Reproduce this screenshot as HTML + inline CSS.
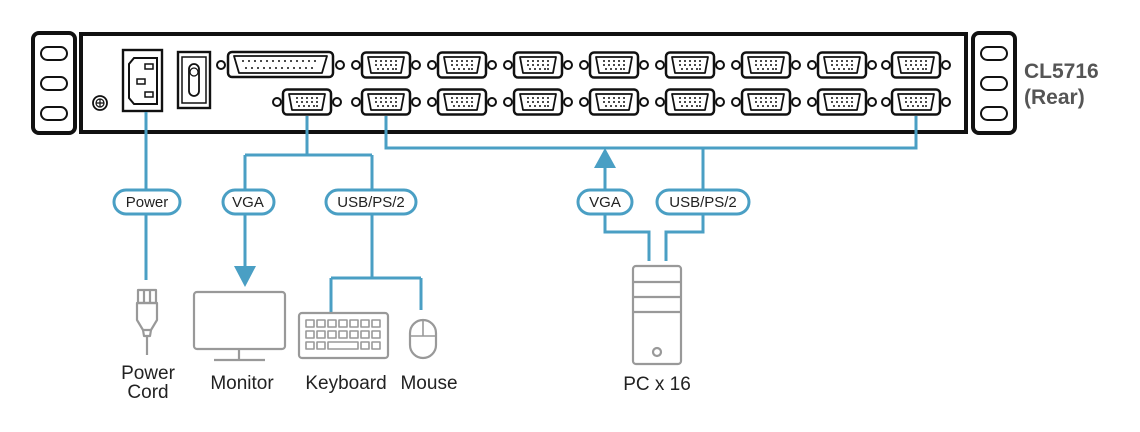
<!DOCTYPE html>
<html><head><meta charset="utf-8"><style>
html,body{margin:0;padding:0;background:#fff;width:1140px;height:432px;overflow:hidden}
svg{display:block}
text{font-family:"Liberation Sans",Arial,sans-serif}
</style></head><body>
<svg width="1140" height="432" viewBox="0 0 1140 432" xmlns="http://www.w3.org/2000/svg">
<defs>
<g id="vga">
<circle cx="-30" cy="0" r="4" fill="none" stroke="#111" stroke-width="2"/>
<circle cx="30" cy="0" r="4" fill="none" stroke="#111" stroke-width="2"/>
<rect x="-24" y="-12.5" width="48" height="25" rx="4" fill="none" stroke="#111" stroke-width="2.5"/>
<path d="M-18,-8 H18 L15,8 H-15 Z" fill="none" stroke="#111" stroke-width="1.8" stroke-linejoin="round"/>
<g fill="#111">
<circle cx="-10" cy="-4" r="1"/><circle cx="-5" cy="-4" r="1"/><circle cx="0" cy="-4" r="1"/><circle cx="5" cy="-4" r="1"/><circle cx="10" cy="-4" r="1"/>
<circle cx="-10" cy="0" r="1"/><circle cx="-5" cy="0" r="1"/><circle cx="0" cy="0" r="1"/><circle cx="5" cy="0" r="1"/><circle cx="10" cy="0" r="1"/>
<circle cx="-8" cy="4" r="1"/><circle cx="-3" cy="4" r="1"/><circle cx="2" cy="4" r="1"/><circle cx="7" cy="4" r="1"/><circle cx="10" cy="4" r="1"/>
</g>
</g>
<g id="ear">
<rect x="0" y="0" width="42" height="100" rx="6" fill="none" stroke="#111" stroke-width="4"/>
<rect x="8" y="14" width="26" height="13" rx="6.5" fill="none" stroke="#111" stroke-width="2"/>
<rect x="8" y="44" width="26" height="13" rx="6.5" fill="none" stroke="#111" stroke-width="2"/>
<rect x="8" y="74" width="26" height="13" rx="6.5" fill="none" stroke="#111" stroke-width="2"/>
</g>
</defs>

<use href="#ear" x="33" y="33"/>
<use href="#ear" x="973" y="33"/>
<rect x="81" y="34" width="885" height="98" fill="none" stroke="#111" stroke-width="4"/>

<circle cx="100" cy="103" r="7" fill="none" stroke="#111" stroke-width="1.8"/>
<circle cx="100" cy="103" r="4" fill="none" stroke="#111" stroke-width="1.2"/>
<path d="M96,103 H104 M100,99 V107" stroke="#111" stroke-width="1.2"/>

<rect x="123" y="50" width="39" height="61" fill="none" stroke="#111" stroke-width="2.4"/>
<path d="M134,58 H157 V104 H134 L129,98 V64 Z" fill="none" stroke="#111" stroke-width="2"/>
<rect x="145" y="64" width="8" height="5" fill="none" stroke="#111" stroke-width="1.5"/>
<rect x="137" y="79" width="8" height="5" fill="none" stroke="#111" stroke-width="1.5"/>
<rect x="145" y="92" width="8" height="5" fill="none" stroke="#111" stroke-width="1.5"/>

<rect x="178" y="52" width="32" height="56" fill="none" stroke="#111" stroke-width="2.4"/>
<rect x="182" y="57" width="24" height="46" fill="none" stroke="#111" stroke-width="1.5"/>
<rect x="189" y="64" width="10" height="32" rx="5" fill="none" stroke="#111" stroke-width="1.8"/>
<circle cx="194" cy="72" r="4" fill="none" stroke="#111" stroke-width="1.2"/>

<circle cx="221" cy="65" r="4" fill="none" stroke="#111" stroke-width="2"/>
<circle cx="340" cy="65" r="4" fill="none" stroke="#111" stroke-width="2"/>
<rect x="228" y="52" width="105" height="25" rx="4" fill="none" stroke="#111" stroke-width="2.5"/>
<path d="M234,56 H327 L322,73 H239 Z" fill="none" stroke="#111" stroke-width="1.8" stroke-linejoin="round"/>
<g fill="#111">
<circle cx="243" cy="61" r="1"/><circle cx="249" cy="61" r="1"/><circle cx="255" cy="61" r="1"/><circle cx="261" cy="61" r="1"/><circle cx="267" cy="61" r="1"/><circle cx="273" cy="61" r="1"/><circle cx="279" cy="61" r="1"/><circle cx="285" cy="61" r="1"/><circle cx="291" cy="61" r="1"/><circle cx="297" cy="61" r="1"/><circle cx="303" cy="61" r="1"/><circle cx="309" cy="61" r="1"/><circle cx="315" cy="61" r="1"/>
<circle cx="246" cy="68" r="1"/><circle cx="252" cy="68" r="1"/><circle cx="258" cy="68" r="1"/><circle cx="264" cy="68" r="1"/><circle cx="270" cy="68" r="1"/><circle cx="276" cy="68" r="1"/><circle cx="282" cy="68" r="1"/><circle cx="288" cy="68" r="1"/><circle cx="294" cy="68" r="1"/><circle cx="300" cy="68" r="1"/><circle cx="306" cy="68" r="1"/><circle cx="312" cy="68" r="1"/>
</g>

<use href="#vga" x="307" y="102"/>
<use href="#vga" x="386" y="65"/><use href="#vga" x="462" y="65"/><use href="#vga" x="538" y="65"/><use href="#vga" x="614" y="65"/>
<use href="#vga" x="690" y="65"/><use href="#vga" x="766" y="65"/><use href="#vga" x="842" y="65"/><use href="#vga" x="916" y="65"/>
<use href="#vga" x="386" y="102"/><use href="#vga" x="462" y="102"/><use href="#vga" x="538" y="102"/><use href="#vga" x="614" y="102"/>
<use href="#vga" x="690" y="102"/><use href="#vga" x="766" y="102"/><use href="#vga" x="842" y="102"/><use href="#vga" x="916" y="102"/>

<text x="1024" y="78" font-size="21" font-weight="bold" fill="#555">CL5716</text>
<text x="1024" y="104" font-size="21" font-weight="bold" fill="#555">(Rear)</text>

<g fill="none" stroke="#4a9fc4" stroke-width="3">
<path d="M146,112 V280"/>
<path d="M307,116 V155 M245,155 H372 M245,155 V270 M372,155 V278 M331,278 H421 M331,278 V312 M421,278 V310"/>
<path d="M386,116 V148 H916 V116"/>
<path d="M605,166 V232 H649 V261"/>
<path d="M703,148 V232 H666 V261"/>
</g>
<path d="M234,266 H256 L245,287 Z" fill="#4a9fc4"/>
<path d="M594,168 H616 L605,148 Z" fill="#4a9fc4"/>

<g fill="#fff" stroke="#4a9fc4" stroke-width="3">
<rect x="114" y="190" width="66" height="24" rx="12"/>
<rect x="223" y="190" width="51" height="24" rx="12"/>
<rect x="326" y="190" width="90" height="24" rx="12"/>
<rect x="578" y="190" width="54" height="24" rx="12"/>
<rect x="657" y="190" width="92" height="24" rx="12"/>
</g>
<g font-size="15" fill="#222" text-anchor="middle">
<text x="147" y="207">Power</text>
<text x="248" y="207">VGA</text>
<text x="371" y="207">USB/PS/2</text>
<text x="605" y="207">VGA</text>
<text x="703" y="207">USB/PS/2</text>
</g>

<g fill="none" stroke="#999" stroke-width="2.2" stroke-linejoin="round">
<rect x="138" y="290" width="18" height="13"/>
<path d="M144,290 V303 M150,290 V303"/>
<path d="M137,303 H157 V320 L151,330 H143 L137,320 Z"/>
<path d="M143,330 L144,336 H150 L151,330"/>
<path d="M147,336 V355"/>
<rect x="194" y="292" width="91" height="57" rx="3"/>
<path d="M239,349 V359 M214,360 H265"/>
<rect x="299" y="313" width="89" height="45" rx="3"/>
<g stroke-width="1.6">
<rect x="306" y="320" width="8" height="7"/><rect x="317" y="320" width="8" height="7"/><rect x="328" y="320" width="8" height="7"/><rect x="339" y="320" width="8" height="7"/><rect x="350" y="320" width="8" height="7"/><rect x="361" y="320" width="8" height="7"/><rect x="372" y="320" width="8" height="7"/>
<rect x="306" y="331" width="8" height="7"/><rect x="317" y="331" width="8" height="7"/><rect x="328" y="331" width="8" height="7"/><rect x="339" y="331" width="8" height="7"/><rect x="350" y="331" width="8" height="7"/><rect x="361" y="331" width="8" height="7"/><rect x="372" y="331" width="8" height="7"/>
<rect x="306" y="342" width="8" height="7"/><rect x="317" y="342" width="8" height="7"/><rect x="328" y="342" width="30" height="7"/><rect x="361" y="342" width="8" height="7"/><rect x="372" y="342" width="8" height="7"/>
</g>
<rect x="410" y="320" width="26" height="38" rx="13"/>
<path d="M423,320 V336 M410,336 H436" stroke-width="1.6"/>
<rect x="633" y="266" width="48" height="98" rx="3"/>
<path d="M633,282 H681 M633,297 H681 M633,312 H681"/>
<circle cx="657" cy="352" r="4"/>
</g>

<g font-size="19" fill="#222" text-anchor="middle">
<text x="148" y="379">Power</text>
<text x="148" y="398">Cord</text>
<text x="242" y="389">Monitor</text>
<text x="346" y="389">Keyboard</text>
<text x="429" y="389">Mouse</text>
<text x="657" y="390">PC x 16</text>
</g>
</svg>
</body></html>
